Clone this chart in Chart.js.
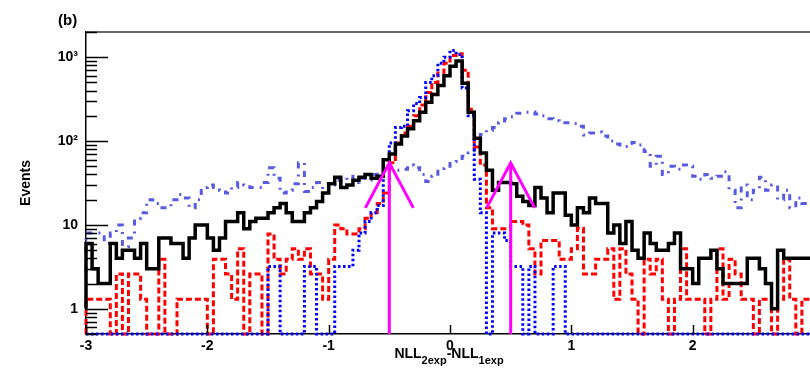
<!DOCTYPE html>
<html>
<head>
<meta charset="utf-8">
<script src="https://cdn.jsdelivr.net/npm/chart.js@4.4.0/dist/chart.umd.min.js"></script>
<style>
  html, body { margin: 0; padding: 0; background: #fff; overflow: hidden; }
  #wrap { width: 830px; height: 368px; }
</style>
</head>
<body>
<div id="wrap"><canvas id="canvas" width="830" height="368"></canvas></div>
<script>
// histogram binning: 120 bins of 0.05 from -3 to 3
const binStart = -3;
const binWidth = 0.05;

// data (black, solid)
const dataCounts = [
  1, 6, 3, 2, 2, 6, 4, 5, 5, 4,
  6, 3, 3, 7, 7, 6, 6, 4, 7, 10,
  10, 7, 5, 7, 11, 11, 14, 9, 11, 12,
  12, 14, 16, 18, 14, 11, 11, 14, 16, 19,
  24, 31, 37, 28, 30, 34, 37, 40, 36, 38,
  60, 70, 92, 115, 140, 175, 220, 290, 360, 460,
  600, 780, 900, 490, 220, 108, 72, 45, 26, 32,
  32, 31, 22, 19, 17, 28, 21, 14, 24, 24,
  13, 10, 16, 14, 21, 18, 18, 8, 10, 6,
  11, 5, 4, 8, 6, 5, 5, 6, 8, 3,
  3, 2, 4, 4, 5, 3, 2, 2, 2, 2,
  4, 4, 3, 2, 1, 5, 4, 4, 4, 4
];

// red dashed
const redCounts = [
  0, 1.3, 1.3, 1.3, 1.3, 0, 2.6, 0, 2.6, 2.6,
  1.3, 0, 0, 3.9, 0, 0, 1.3, 1.3, 1.3, 1.3,
  1.3, 0, 3.9, 3.9, 2.6, 1.3, 5.2, 0, 2.6, 2.6,
  0, 7.8, 3.9, 2.6, 3.9, 5.2, 3.9, 5.2, 2.6, 2.6,
  1.3, 3.9, 10, 9, 7.8, 7.8, 9, 12, 14, 18,
  24, 55, 95, 125, 150, 200, 270, 380, 500, 650,
  850, 1050, 1100, 700, 240, 85, 52, 16, 9, 9,
  9, 11, 11, 10, 5.2, 2.6, 6.5, 6.5, 6.5, 3.9,
  3.9, 5.2, 9.1, 2.6, 2.6, 3.9, 3.9, 5.2, 1.3, 5.2,
  2.6, 1.3, 0, 3.9, 2.6, 3.9, 1.3, 0, 1.3, 5.2,
  1.3, 1.3, 1.3, 0, 1.3, 5.2, 1.3, 3.9, 2.6, 1.3,
  1.3, 0, 1.3, 1.3, 0, 1.3, 3.9, 1.3, 0, 1.3
];

// blue dotted
const blueCounts = [
  0, 0, 0, 0, 0, 0, 0, 0, 0, 0,
  0, 0, 0, 0, 0, 0, 0, 0, 0, 0,
  0, 0, 0, 0, 0, 0, 0, 0, 0, 0,
  0, 3.2, 3.2, 0, 0, 0, 0, 3.2, 3.2, 0,
  0, 0, 3.2, 3.2, 3.2, 5, 8, 11, 14, 17,
  60, 95, 145, 150, 230, 280, 330, 500, 600, 850,
  1000, 1200, 1080, 430, 200, 35, 14, 0, 8, 8,
  6.5, 3.2, 3.2, 0, 3.2, 0, 0, 0, 3.2, 3.2,
  0, 0, 0, 0, 0, 0, 0, 0, 0, 0,
  0, 0, 0, 0, 0, 0, 0, 0, 0, 0,
  0, 0, 0, 0, 0, 0, 0, 0, 0, 0,
  0, 0, 0, 0, 0, 0, 0, 0, 0, 0
];

// light blue dash-dot
const slateCounts = [
  2.7, 8, 8, 8, 6, 8, 10, 5.5, 7, 12,
  14, 20, 18, 16, 16, 20, 23, 21, 16, 20,
  28, 30, 28, 26, 24, 28, 32, 30, 28, 28,
  32, 48, 36, 24, 26, 31, 55, 25, 28, 32,
  26, 30, 34, 33, 38, 32, 36, 34, 40, 42,
  42, 47, 45, 46, 52, 48, 40, 33, 38, 47,
  50, 57, 62, 66, 72, 105, 120, 135, 145, 165,
  185, 195, 215, 220, 222, 210, 200, 185, 175, 165,
  165, 162, 150, 118, 125, 128, 115, 100, 92, 86,
  86, 96, 90, 75, 50, 66, 40, 50, 46, 52,
  50, 38, 35, 40, 36, 38, 43, 26, 16, 30,
  20, 26, 37, 26, 30, 20, 26, 16, 21, 18
];

// axis
const yMin = 0.5;
const yMax = 2000;
const yTickValues = [1, 10, 100, 1000];
const yTickText = ['1', '10', '10\u00B2', '10\u00B3'];
const xTickValues = [-3, -2, -1, 0, 1, 2];

// cut arrows
const arrowX = [-0.5, 0.5];
const arrowTip = 55;

const fontFam = 'Liberation Sans, Arial, sans-serif';

function histPoints(values) {
    let pts = values.map((v, i) => ({ x: binStart + i * binWidth, y: v > 0 ? v : yMin }));
    pts.push({ x: binStart + values.length * binWidth, y: pts[pts.length - 1].y });
    return pts;
}

function histDataset(label, values, color, dash, width) {
    return {
        label: label,
        data: histPoints(values),
        borderColor: color,
        borderWidth: width,
        borderDash: dash,
        stepped: 'after',
        pointRadius: 0,
        fill: false,
        clip: false
    };
}

const framePlugin = {
    id: 'frame',
    afterDatasetsDraw(chart) {
        const ctx = chart.ctx;
        const area = chart.chartArea;
        const xs = chart.scales.x;
        const ys = chart.scales.y;
        ctx.save();

        // top frame line
        ctx.strokeStyle = '#666';
        ctx.lineWidth = 2;
        ctx.beginPath();
        ctx.moveTo(area.left, area.top);
        ctx.lineTo(area.right, area.top);
        ctx.stroke();

        // inward ticks on y
        ctx.strokeStyle = '#000';
        ctx.lineWidth = 1.5;
        for (let e = -1; e <= 3; e++) {
            for (let k = 1; k <= 9; k++) {
                const v = k * Math.pow(10, e);
                if (v < yMin || v > yMax) continue;
                const py = Math.round(ys.getPixelForValue(v)) + 0.5;
                const len = k === 1 ? 22 : 11;
                ctx.beginPath();
                ctx.moveTo(area.left, py);
                ctx.lineTo(area.left + len, py);
                ctx.stroke();
            }
        }
        // inward ticks on x
        xTickValues.forEach(v => {
            const px = Math.round(xs.getPixelForValue(v)) + 0.5;
            ctx.beginPath();
            ctx.moveTo(px, area.bottom);
            ctx.lineTo(px, area.bottom - 9);
            ctx.stroke();
        });

        // arrows
        ctx.strokeStyle = '#ff00ff';
        ctx.lineWidth = 3;
        arrowX.forEach(v => {
            const px = xs.getPixelForValue(v);
            const tipY = ys.getPixelForValue(arrowTip);
            ctx.beginPath();
            ctx.moveTo(px, area.bottom);
            ctx.lineTo(px, tipY);
            ctx.stroke();
            ctx.beginPath();
            ctx.moveTo(px - 24, tipY + 45);
            ctx.lineTo(px, tipY);
            ctx.lineTo(px + 24, tipY + 45);
            ctx.stroke();
        });

        // panel label
        ctx.fillStyle = '#000';
        ctx.font = 'bold 15px ' + fontFam;
        ctx.textBaseline = 'alphabetic';
        ctx.textAlign = 'left';
        ctx.fillText('(b)', 58, 25);

        // x title with subscripts
        const parts = [['NLL', false], ['2exp', true], ['-NLL', false], ['1exp', true]];
        let total = 0;
        parts.forEach(p => {
            ctx.font = (p[1] ? 'bold 11px ' : 'bold 14px ') + fontFam;
            total += ctx.measureText(p[0]).width;
        });
        let cx = 449 - total / 2;
        parts.forEach(p => {
            ctx.font = (p[1] ? 'bold 11px ' : 'bold 14px ') + fontFam;
            ctx.fillText(p[0], cx, p[1] ? 364 : 358);
            cx += ctx.measureText(p[0]).width;
        });
        ctx.restore();
    }
};

const config = {
    type: 'line',
    data: {
        datasets: [
            histDataset('data', dataCounts, '#000000', [], 3.5),
            histDataset('blue', blueCounts, '#0000ff', [2.5, 2.5], 3),
            histDataset('red', redCounts, '#ff0000', [6, 3], 3),
            histDataset('slate', slateCounts, '#5a5ae0', [6, 6, 2, 6], 3)
        ]
    },
    options: {
        responsive: false,
        animation: false,
        layout: { padding: { top: 32, right: 16, left: 0, bottom: 0 } },
        plugins: { legend: { display: false }, tooltip: { enabled: false } },
        scales: {
            x: {
                type: 'linear',
                min: -3,
                max: 3,
                afterFit: (s) => { s.height = 34; },
                afterBuildTicks: (s) => { s.ticks = xTickValues.map(v => ({ value: v })); },
                grid: { drawOnChartArea: false, drawTicks: false },
                border: { display: true, color: '#000', width: 1.5 },
                ticks: {
                    autoSkip: false,
                    maxRotation: 0,
                    padding: 4,
                    color: '#000',
                    font: { size: 14, weight: 'bold', family: fontFam },
                    callback: (v) => String(v)
                }
            },
            y: {
                type: 'logarithmic',
                min: yMin,
                max: yMax,
                afterFit: (s) => { s.width = 86; },
                afterBuildTicks: (s) => { s.ticks = yTickValues.map(v => ({ value: v })); },
                grid: { drawOnChartArea: false, drawTicks: false },
                border: { display: true, color: '#000', width: 1.5 },
                title: {
                    display: true,
                    text: 'Events',
                    color: '#000',
                    font: { size: 14, weight: 'bold', family: fontFam },
                    padding: { top: 18, bottom: 0 }
                },
                ticks: {
                    autoSkip: false,
                    padding: 8,
                    color: '#000',
                    font: { size: 14, weight: 'bold', family: fontFam },
                    callback: (v) => {
                        const i = yTickValues.indexOf(v);
                        return i >= 0 ? yTickText[i] : '';
                    }
                }
            }
        }
    },
    plugins: [framePlugin]
};

var ctx = document.getElementById('canvas').getContext('2d');
window.myLine = new Chart(ctx, config);
</script>
</body>
</html>
